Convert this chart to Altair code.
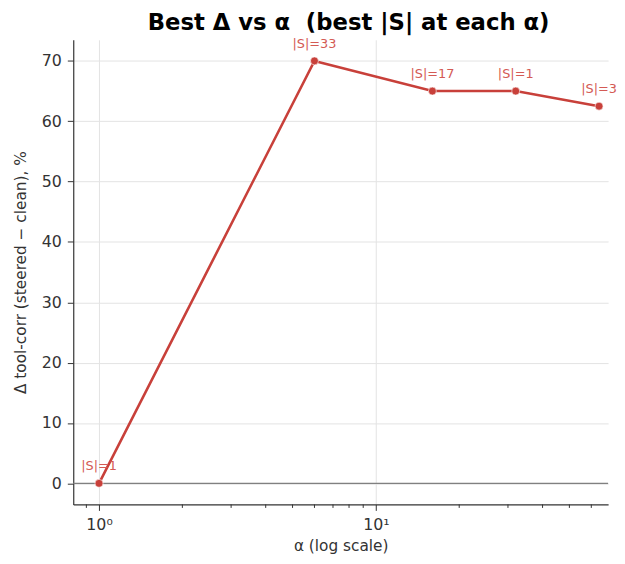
import altair as alt
import pandas as pd

alphas = [1, 6, 16, 32, 64]
deltas = [0.0, 70.0, 65.0, 65.0, 62.5]
labels = ["|S|=1", "|S|=33", "|S|=17", "|S|=1", "|S|=3"]
major_ticks = [1, 10]
minor_ticks = [0.9, 2, 3, 4, 5, 6, 7, 8, 9, 20, 30, 40, 50, 60]
y_ticks = [0, 10, 20, 30, 40, 50, 60, 70]

df = pd.DataFrame({"alpha": alphas, "delta": deltas, "label": labels})
minor_df = pd.DataFrame({"alpha": minor_ticks})
zero_df = pd.DataFrame({"y": [0]})

W, H = 541, 470
RED = "#c8403a"
FONT = "DejaVu Sans"

xscale = alt.Scale(type="log", domain=[0.807, 69.0], nice=False)
yscale = alt.Scale(domain=[-3.5, 73.5], nice=False, zero=False)

xaxis = alt.Axis(
    values=major_ticks,
    labelExpr="datum.value == 1 ? '10⁰' : (datum.value == 10 ? '10¹' : '')",
    title="α (log scale)",
    grid=True, gridColor="#e3e3e3", gridWidth=1,
    tickSize=6, tickColor="#333", domainColor="#333", domainWidth=1.2,
    labelFontSize=16, labelColor="#333", labelPadding=6, labelFont=FONT,
    titleFontSize=15.5, titleColor="#333", titleFontWeight="normal", titleFont=FONT,
    titlePadding=7,
)
yaxis = alt.Axis(
    values=y_ticks, title="Δ tool-corr (steered − clean), %",
    grid=True, gridColor="#e3e3e3", gridWidth=1,
    tickSize=6, tickColor="#333", domainColor="#333", domainWidth=1.2,
    labelFontSize=16, labelColor="#333", labelPadding=6, labelFont=FONT,
    titleFontSize=15.5, titleColor="#333", titleFontWeight="normal", titleFont=FONT,
    titlePadding=13,
)

base = alt.Chart(df)

zero = alt.Chart(zero_df).mark_rule(color="#808080", strokeWidth=1.1).encode(
    y=alt.Y("y:Q", scale=yscale, axis=yaxis)
)

line = base.mark_line(color=RED, strokeWidth=2.6).encode(
    x=alt.X("alpha:Q", scale=xscale, axis=xaxis),
    y=alt.Y("delta:Q", scale=yscale, axis=yaxis),
)
pts = base.mark_point(filled=True, color=RED, size=65, opacity=1,
                      stroke="white", strokeWidth=0.6).encode(
    x=alt.X("alpha:Q", scale=xscale),
    y=alt.Y("delta:Q", scale=yscale),
)
txt = base.mark_text(color="#d45a54", fontSize=13, font=FONT, dy=-17,
                     align="center", baseline="middle").encode(
    x=alt.X("alpha:Q", scale=xscale),
    y=alt.Y("delta:Q", scale=yscale),
    text="label:N",
)
minor = alt.Chart(minor_df).mark_rule(color="#333", strokeWidth=1).encode(
    x=alt.X("alpha:Q", scale=xscale),
    y=alt.value(H),
    y2=alt.value(H + 3.5),
)

chart = alt.layer(zero, line, pts, txt, minor).properties(
    width=W, height=H,
    padding={"top": 1, "left": 5, "right": 0, "bottom": 0},
    title=alt.TitleParams("Best Δ vs α\u00a0 (best |S| at each α)", fontSize=23,
                          fontWeight="bold", font=FONT, color="black",
                          anchor="middle", offset=3, dx=8),
).configure_view(stroke=None)

chart.save("out.html", embed_options={"renderer": "svg", "actions": False})
